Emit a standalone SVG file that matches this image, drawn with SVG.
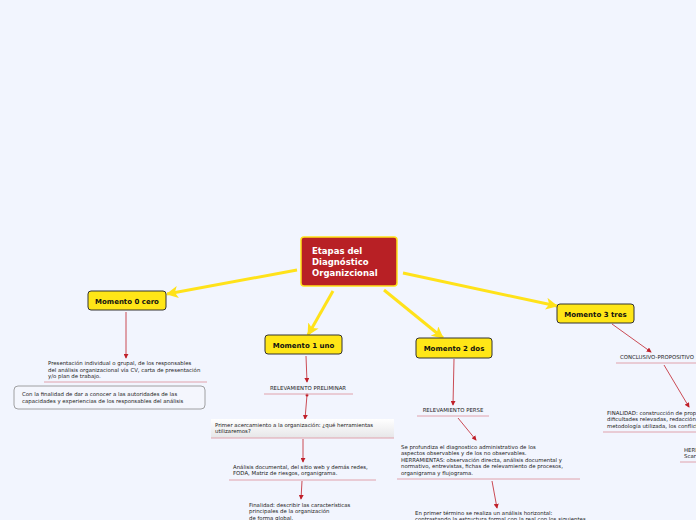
<svg xmlns="http://www.w3.org/2000/svg" width="696" height="520" viewBox="0 0 696 520">
<defs>
<marker id="ya" viewBox="0 0 12 12" refX="11" refY="6" markerWidth="12" markerHeight="12" markerUnits="userSpaceOnUse" orient="auto"><path d="M0,0 L12,6 L0,12 L3,6 Z" fill="#ffe21a"/></marker>
<marker id="ra" viewBox="0 0 6 6" refX="5" refY="3" markerWidth="5" markerHeight="5" markerUnits="userSpaceOnUse" orient="auto"><path d="M0,0 L6,3 L0,6 Z" fill="#c0202a"/></marker>
<linearGradient id="gb" x1="0" y1="0" x2="0" y2="1"><stop offset="0" stop-color="#ffffff"/><stop offset="1" stop-color="#e6e6e8"/></linearGradient>
<style>
.bg{fill:#f2f5fe}
.yl{stroke:#ffe21a;stroke-width:3;fill:none;marker-end:url(#ya)}
.rl{stroke:#c0202a;stroke-width:0.8;fill:none;marker-end:url(#ra)}
.ul{stroke:#e0a2ac;stroke-width:1;fill:none}
.mom{fill:#ffe617;stroke:#333;stroke-width:1}
.mt{font-family:"DejaVu Sans",Verdana,sans-serif;font-weight:bold;font-size:7px;fill:#111;text-anchor:middle}
.ct{font-family:"DejaVu Sans",Verdana,sans-serif;font-weight:bold;font-size:8.5px;fill:#fff}
.t{font-family:"DejaVu Sans",Verdana,sans-serif;font-size:5.4px;fill:#222}
</style>
</defs>
<rect class="bg" x="0" y="0" width="696" height="520"/>
<g id="connectors">
<line class="yl" x1="297" y1="270" x2="167" y2="294"/>
<line class="yl" x1="333" y1="291" x2="308" y2="335"/>
<line class="yl" x1="384" y1="290" x2="443" y2="338"/>
<line class="yl" x1="403" y1="273" x2="557" y2="306"/>
<line class="rl" x1="126" y1="312" x2="126" y2="358"/>
<line class="rl" x1="306" y1="356" x2="307" y2="382"/>
<circle cx="307" cy="395" r="1.5" fill="#c0202a"/>
<line class="rl" x1="307" y1="395" x2="305" y2="419"/>
<line class="rl" x1="303" y1="439" x2="303" y2="462"/>
<line class="rl" x1="302" y1="481" x2="301" y2="499"/>
<line class="rl" x1="454" y1="359" x2="453" y2="405"/>
<line class="rl" x1="458" y1="418" x2="476" y2="440"/>
<line class="rl" x1="492" y1="481" x2="497" y2="508"/>
<line class="rl" x1="612" y1="324" x2="651" y2="352"/>
<line class="rl" x1="664" y1="365" x2="689" y2="407"/>
</g>
<g id="center">
<rect x="301" y="237" width="96" height="49" rx="3" fill="#b82025" stroke="#ffe21a" stroke-width="1.5"/>
<text class="ct" x="312" y="254">Etapas del</text>
<text class="ct" x="312" y="265">Diagnóstico</text>
<text class="ct" x="312" y="276">Organizcional</text>
</g>
<g id="m0">
<rect class="mom" x="88" y="291" width="78" height="19" rx="3"/>
<text class="mt" x="127" y="303.5">Momento 0 cero</text>
</g>
<g id="m1">
<rect class="mom" x="265" y="335" width="77" height="19" rx="3"/>
<text class="mt" x="303.5" y="347.5">Momento 1 uno</text>
</g>
<g id="m2">
<rect class="mom" x="416" y="338" width="76" height="20" rx="3"/>
<text class="mt" x="454" y="351">Momento 2 dos</text>
</g>
<g id="m3">
<rect class="mom" x="557" y="304" width="77" height="19" rx="3"/>
<text class="mt" x="595.5" y="316.5">Momento 3 tres</text>
</g>
<g id="m0a">
<text class="t" x="48" y="365">Presentación individual o grupal, de los responsables</text>
<text class="t" x="48" y="371.5">del análisis organizacional vía CV, carta de presentación</text>
<text class="t" x="48" y="378">y/o plan de trabajo.</text>
<line class="ul" x1="44" y1="382" x2="207" y2="382"/>
</g>
<g id="m0b">
<rect x="14" y="386" width="191" height="23" rx="4" fill="#f4f6fd" stroke="#8a8a8a" stroke-width="0.8"/>
<text class="t" x="22" y="396">Con la finalidad de dar a conocer a las autoridades de las</text>
<text class="t" x="22" y="403">capacidades y experiencias de los responsables del análisis</text>
</g>
<g id="m1a">
<text class="t" x="308" y="389.5" text-anchor="middle">RELEVAMIENTO PRELIMINAR</text>
<line class="ul" x1="264" y1="394" x2="353" y2="394"/>
</g>
<g id="m1b">
<rect x="211" y="419" width="183" height="19" fill="url(#gb)"/>
<line class="ul" x1="211" y1="438" x2="394" y2="438"/>
<text class="t" x="215" y="426.5">Primer acercamiento a la organización: ¿qué herramientas</text>
<text class="t" x="215" y="433">utilizaremos?</text>
</g>
<g id="m1c">
<text class="t" x="233" y="468.5">Análisis documental, del sitio web y demás redes,</text>
<text class="t" x="233" y="475">FODA, Matriz de riesgos, organigrama.</text>
<line class="ul" x1="229" y1="480" x2="376" y2="480"/>
</g>
<g id="m1d">
<text class="t" x="249" y="506.5">Finalidad: describir las características</text>
<text class="t" x="249" y="513">principales de la organización</text>
<text class="t" x="249" y="519.5">de forma global.</text>
</g>
<g id="m2a">
<text class="t" x="453" y="411.5" text-anchor="middle">RELEVAMIENTO PERSE</text>
<line class="ul" x1="417" y1="416" x2="489" y2="416"/>
</g>
<g id="m2b">
<text class="t" x="401" y="448.5">Se profundiza el diagnostico administrativo de los</text>
<text class="t" x="401" y="455">aspectos observables y de los no observables.</text>
<text class="t" x="401" y="461.5">HERRAMIENTAS: observación directa, análisis documental y</text>
<text class="t" x="401" y="468">normativo, entrevistas, fichas de relevamiento de procesos,</text>
<text class="t" x="401" y="474.5">organigrama y flujograma.</text>
<line class="ul" x1="397" y1="479" x2="580" y2="479"/>
</g>
<g id="m2c">
<text class="t" x="415" y="514.5">En primer término se realiza un análisis horizontal:</text>
<text class="t" x="415" y="521">contrastando la estructura formal con la real con los siguientes</text>
</g>
<g id="m3a">
<text class="t" x="620" y="358.5">CONCLUSIVO-PROPOSITIVO</text>
<line class="ul" x1="616" y1="363" x2="696" y2="363"/>
</g>
<g id="m3b">
<text class="t" x="607" y="414.5">FINALIDAD: construcción de propuestas</text>
<text class="t" x="607" y="421">dificultades relevadas, redacción del</text>
<text class="t" x="607" y="427.5">metodología utilizada, los conflictos</text>
<line class="ul" x1="603" y1="432" x2="696" y2="432"/>
</g>
<g id="m3c">
<text class="t" x="684" y="451.5">HERRAMIENTAS</text>
<text class="t" x="684" y="458">Scar</text>
<line class="ul" x1="680" y1="462" x2="696" y2="462"/>
</g>
</svg>
